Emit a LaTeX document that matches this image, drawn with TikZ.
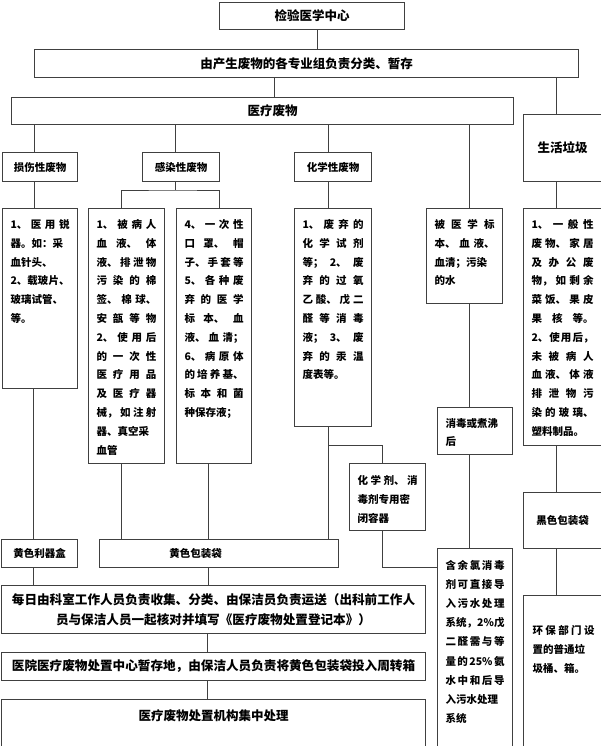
\documentclass[tikz,border=0pt]{standalone}
\usepackage{fontspec}
\setmainfont{Noto Sans CJK SC}
\XeTeXlinebreaklocale "zh"
\XeTeXlinebreakskip=0pt plus 1pt
\tikzset{
  ln/.style={draw=black!75, line width=1pt},
  bx/.style={draw=black!75, line width=1pt, anchor=north west, inner sep=0pt, align=center, font=\bfseries\fontsize{10.5}{12.6}\selectfont},
  big/.style={font=\bfseries\fontsize{12.5}{15}\selectfont},
  bigger/.style={font=\bfseries\fontsize{12.6}{20}\selectfont},
  tx/.style={inner xsep=8pt, inner ysep=0pt, align=justify, font=\bfseries\fontsize{10.5}{18.8}\selectfont},
}
\newcommand\mkbox[7][]{\pgfmathsetmacro\bw{#5-#3}\pgfmathsetmacro\bh{#6-#4}\node[bx,minimum width=\bw pt,minimum height=\bh pt,#1] (#2) at (#3,#4) {#7};}
\newcommand\mktext[8][]{\pgfmathsetmacro\tw{#5-#3-16}\pgfmathsetmacro\td{#6-#4-#7}\node[bx,tx,text width=\tw pt,text height=#7pt,text depth=\td pt,#1] (#2) at (#3,#4) {#8};}
\begin{document}
\begin{tikzpicture}[x=1pt,y=-1pt]
\useasboundingbox (0,0) rectangle (600,746);
% top boxes
\mkbox[big]{c1}{219}{2}{404}{29}{检验医学中心}
\mkbox[big]{c2}{34}{49}{578}{77}{由产生废物的各专业组负责分类、暂存}
\mkbox[big]{c3}{11}{97}{513}{124}{\hspace*{20pt}医疗废物}
\mkbox[big]{g0}{523}{114}{601}{181}{生活垃圾}
% categories
\mkbox{k1}{2}{152}{77}{181}{损伤性废物}
\mkbox{k2}{142}{152}{219}{181}{感染性废物}
\mkbox{k3}{294}{152}{371}{181}{化学性废物}
% text boxes
\mktext{t1}{2}{208}{77}{388}{20}{1、医用锐\linebreak 器。如：采\newline 血针头、\newline 2、载玻片、\linebreak 玻璃试管、\newline 等。}
\mktext{t2}{88}{208}{164}{463}{20}{1、被病人\linebreak 血液、体\linebreak 液、排泄物\linebreak 污染的棉\linebreak 签、棉球、\linebreak 安瓿等物\linebreak 2、使用后\linebreak 的一次性\linebreak 医疗用品\linebreak 及医疗器\linebreak 械，如注射\linebreak 器、真空采\newline 血管}
\mktext{t3}{176}{208}{251}{463}{20}{4、一次性\linebreak 口罩、帽\linebreak 子、手套等\linebreak 5、各种废\linebreak 弃的医学\linebreak 标本、血\linebreak 液、血清；\linebreak 6、病原体\linebreak 的培养基、\linebreak 标本和菌\linebreak 种保存液；}
\mktext{t4}{294}{208}{371}{426}{20}{1、废弃的\linebreak 化学试剂\linebreak 等；2、废\linebreak 弃的过氧\linebreak 乙酸、戊二\linebreak 醛等消毒\linebreak 液；3、废\linebreak 弃的汞温\linebreak 度表等。}
\mktext{t5}{426}{208}{502}{303}{20}{被医学标\linebreak 本、血液、\linebreak 血清；污染\newline 的水}
\mktext{t6}{523}{208}{601}{445}{20}{1、一般性\linebreak 废物、家居\linebreak 及办公废\linebreak 物，如剩余\linebreak 菜饭、果皮\linebreak 果核等。\linebreak 2、使用后，\linebreak 未被病人\linebreak 血液、体液\linebreak 排泄物污\linebreak 染的玻璃、\linebreak 塑料制品。}
\mktext{d1}{437}{407}{512}{454}{19.5}{消毒或煮沸\newline 后}
\mktext{d2}{349}{463}{425}{530}{21}{化学剂、消\linebreak 毒剂专用密\newline 闭容器}
\mkbox{b3}{523}{492}{601}{548}{黑色包装袋}
\mkbox{y1}{1}{539}{77}{567}{黄色利器盒}
\mkbox{y2}{99}{539}{338}{567}{黄色包装袋\hspace*{47pt}}
\mktext[font=\bfseries\fontsize{10.5}{19.2}\selectfont]{w1}{437}{548}{512}{750}{20.5}{含余氯消毒\linebreak 剂可直接导\linebreak 入污水处理\linebreak 系统，2\%戊\linebreak 二醛需与等\linebreak 量的25\%氨\linebreak 水中和后导\linebreak 入污水处理\newline 系统}
\mktext[inner xsep=9pt]{w2}{523}{595}{601}{750}{39}{环保部门设\linebreak 置的普通垃\newline 圾桶、箱。}
% bottom flow
\mkbox[bigger]{f1}{1}{585}{425}{633}{每日由科室工作人员负责收集、分类、由保洁员负责运送（出科前工作人\\员与保洁人员一起核对并填写《医疗废物处置登记本》）}
\mkbox[font=\bfseries\fontsize{12.6}{16}\selectfont]{f2}{1}{652}{425}{680}{医院医疗废物处置中心暂存地，由保洁人员负责将黄色包装袋投入周转箱}
\node[bx,big,minimum width=424pt,text height=21pt,text depth=30pt] (f3) at (1,699) {医疗废物处置机构集中处理};
% connectors
\coordinate (fk) at (175,190);
\coordinate (fc) at (328,445);
\draw[ln] (c1.south -| 317,0) -- (c2.north -| 317,0);
\draw[ln] (c2.south -| 274,0) -- (c3.north -| 274,0);
\draw[ln] (c2.south -| 556,0) -- (g0.north -| 556,0);
\draw[ln] (c3.south -| 34,0) -- (k1.north -| 34,0);
\draw[ln] (c3.south -| 175,0) -- (k2.north -| 175,0);
\draw[ln] (c3.south -| 328,0) -- (k3.north -| 328,0);
\draw[ln] (c3.south -| 469,0) -- (t5.north -| 469,0);
\draw[ln] (k1.south -| 34,0) -- (t1.north -| 34,0);
\draw[ln] (k2.south -| 175,0) -- (fk);
\draw[ln] (t2.north -| 121,0) |- (fk) -| (t3.north -| 219,0);
\draw[ln] (k3.south -| 328,0) -- (t4.north -| 328,0);
\draw[ln] (g0.south -| 556,0) -- (t6.north -| 556,0);
\draw[ln] (t1.south -| 33,0) -- (y1.north -| 33,0);
\draw[ln] (t2.south -| 121,0) -- (y2.north -| 121,0);
\draw[ln] (t3.south -| 208,0) -- (y2.north -| 208,0);
\draw[ln] (t4.south -| 328,0) -- (y2.north -| 328,0);
\draw[ln] (fc) -| (d2.north -| 382,0);
\draw[ln] (d2.south -| 382,0) |- (w1.west |- 0,567);
\draw[ln] (t5.south -| 469,0) -- (d1.north -| 469,0);
\draw[ln] (d1.south -| 469,0) -- (w1.north -| 469,0);
\draw[ln] (t6.south -| 556,0) -- (b3.north -| 556,0);
\draw[ln] (b3.south -| 556,0) -- (w2.north -| 556,0);
\draw[ln] (y1.south -| 33,0) -- (f1.north -| 33,0);
\draw[ln] (y2.south -| 208,0) -- (f1.north -| 208,0);
\draw[ln] (f1.south -| 207,0) -- (f2.north -| 207,0);
\draw[ln] (f2.south -| 207,0) -- (f3.north -| 207,0);
\end{tikzpicture}
\end{document}
